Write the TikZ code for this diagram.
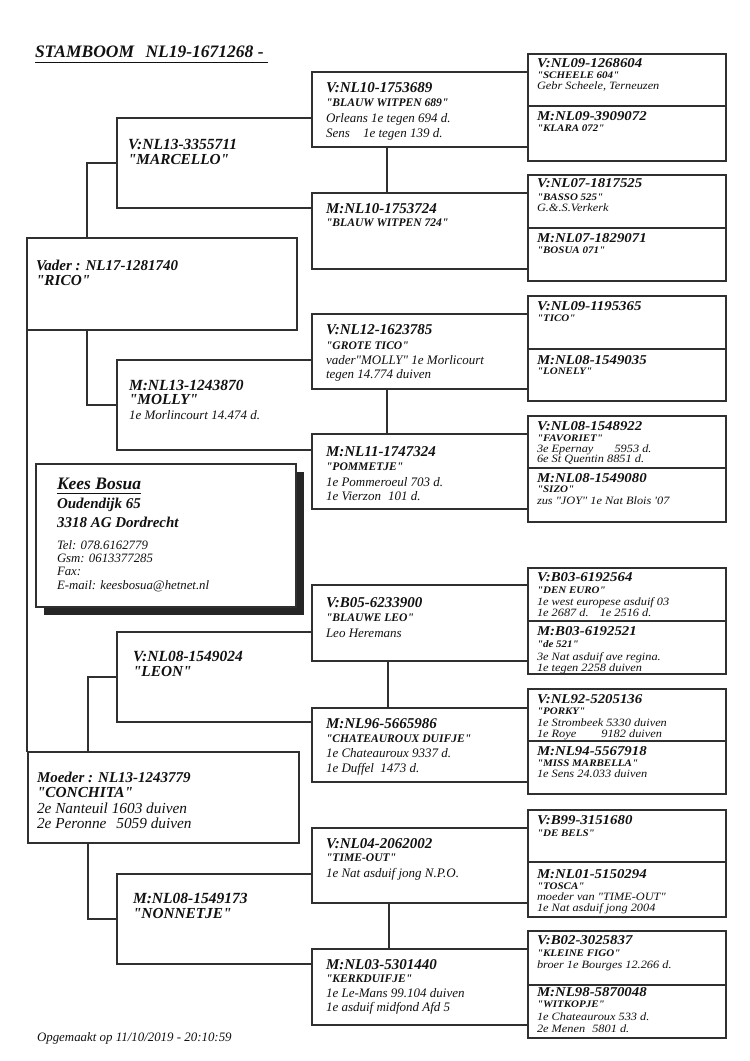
\documentclass[tikz,border=0pt]{standalone}
\usepackage{fontspec}
\setmainfont{Liberation Serif}
\newfontfamily\basefam{Liberation Serif}
\newfontfamily\stretchfam[FakeStretch=1.1]{Liberation Serif}
\newcommand\fTitle{\basefam\fontsize{17.5}{19}\selectfont\bfseries\itshape}
\newcommand\fRing{\basefam\fontsize{15}{16}\selectfont\bfseries\itshape}
\newcommand\fRingB{\basefam\fontsize{15.5}{16}\selectfont\bfseries\itshape}
\newcommand\fNameL{\basefam\fontsize{15.3}{16}\selectfont\bfseries\itshape}
\newcommand\fNameS{\basefam\fontsize{11.6}{13}\selectfont\bfseries\itshape}
\newcommand\fDet{\basefam\fontsize{13}{14}\selectfont\itshape}
\newcommand\fDetL{\basefam\fontsize{13}{14}\selectfont\itshape}
\newcommand\fDetM{\basefam\fontsize{15.3}{17}\selectfont\itshape}
\newcommand\gRing{\stretchfam\fontsize{13.5}{14}\selectfont\bfseries\itshape}
\newcommand\gName{\stretchfam\fontsize{10}{11}\selectfont\bfseries\itshape}
\newcommand\gDet{\stretchfam\fontsize{11.2}{12}\selectfont\itshape}
\newcommand\fKees{\basefam\fontsize{17.5}{19}\selectfont\bfseries\itshape}
\newcommand\fAddr{\basefam\fontsize{15}{16}\selectfont\bfseries\itshape}
\newcommand\fTel{\basefam\fontsize{12.8}{14}\selectfont\itshape}
\newcommand\fFoot{\basefam\fontsize{12.9}{14}\selectfont\itshape}
\definecolor{linec}{HTML}{303030}
\definecolor{txtc}{HTML}{111111}
\newcommand\T[5]{\node[txt,font=#4] (#1) at (#2,#3) {#5};}
\newcommand\bx[5]{\node[box,minimum width={(#4-#2)*1pt},minimum height={(#5-#3)*1pt}] (#1) at (#2,#3) {};}
\begin{document}
\begin{tikzpicture}[x=1pt,y=-1pt,
  txt/.style={anchor=base west,inner sep=0pt,outer sep=0pt,text=txtc},
  box/.style={draw=linec,line width=1.1pt,inner sep=0pt,outer sep=0pt,anchor=north west},
  ln/.style={draw=linec,line width=1.1pt}]
\useasboundingbox[fill=white] (0,0) rectangle (750,1061);

% title
\T{title}{35}{57}{\fTitle}{STAMBOOM\hspace{7pt} NL19-1671268 -}
\draw[line width=1pt,txtc] ([yshift=-5pt]title.base west) -- ([yshift=-5pt,xshift=4pt]title.base east);

% generation 1
\bx{vader}{27}{238}{297}{330}
\bx{moeder}{28}{752}{299}{843}
\draw[ln] (vader.south west) -- (vader.south west |- moeder.north);

% generation 2 brackets
\coordinate (brA) at (117,163);
\coordinate (brB) at (117,405);
\coordinate (brC) at (117,677);
\coordinate (brD) at (117,919);

% generation 3 boxes
\bx{g3a1}{312}{72}{528}{147}
\bx{g3a2}{312}{193}{528}{269}
\bx{g3b1}{312}{314}{528}{389}
\bx{g3b2}{312}{434}{528}{509}
\bx{g3c1}{312}{585}{528}{661}
\bx{g3c2}{312}{708}{528}{782}
\bx{g3d1}{312}{828}{528}{903}
\bx{g3d2}{312}{949}{528}{1025}

% generation 4 boxes
\bx{g4a1}{528}{54}{726}{161}
\bx{g4a2}{528}{175}{726}{281}
\bx{g4b1}{528}{296}{726}{401}
\bx{g4b2}{528}{416}{726}{522}
\bx{g4c1}{528}{568}{726}{674}
\bx{g4c2}{528}{689}{726}{794}
\bx{g4d1}{528}{810}{726}{917}
\bx{g4d2}{528}{931}{726}{1038}
\draw[ln] (g4a1.west |- 0,106) -- (g4a1.east |- 0,106);
\draw[ln] (g4a2.west |- 0,228) -- (g4a2.east |- 0,228);
\draw[ln] (g4b1.west |- 0,349) -- (g4b1.east |- 0,349);
\draw[ln] (g4b2.west |- 0,468) -- (g4b2.east |- 0,468);
\draw[ln] (g4c1.west |- 0,621) -- (g4c1.east |- 0,621);
\draw[ln] (g4c2.west |- 0,741) -- (g4c2.east |- 0,741);
\draw[ln] (g4d1.west |- 0,862) -- (g4d1.east |- 0,862);
\draw[ln] (g4d2.west |- 0,985) -- (g4d2.east |- 0,985);

% brackets of generation 2
\draw[ln] (g3a1.west |- 0,118) -| (brA) |- (g3a2.west |- 0,208);
\draw[ln] (g3b1.west |- 0,360) -| (brB) |- (g3b2.west |- 0,450);
\draw[ln] (g3c1.west |- 0,632) -| (brC) |- (g3c2.west |- 0,722);
\draw[ln] (g3d1.west |- 0,874) -| (brD) |- (g3d2.west |- 0,964);

% connectors generation 1 -> 2
\draw[ln] ([xshift=60pt]vader.north west) |- (brA);
\draw[ln] ([xshift=60pt]vader.south west) |- (brB);
\draw[ln] ([xshift=60pt]moeder.north west) |- (brC);
\draw[ln] ([xshift=60pt]moeder.south west) |- (brD);

% connectors generation 3 pairs
\draw[ln] ([xshift=75pt]g3a1.south west) -- ([xshift=75pt]g3a2.north west);
\draw[ln] ([xshift=75pt]g3b1.south west) -- ([xshift=75pt]g3b2.north west);
\draw[ln] ([xshift=76pt]g3c1.south west) -- ([xshift=76pt]g3c2.north west);
\draw[ln] ([xshift=77pt]g3d1.south west) -- ([xshift=77pt]g3d2.north west);

% Kees Bosua card
\fill[black!85] (44,472) rectangle (304,615);
\node[box,fill=white,minimum width=260pt,minimum height=143pt] (kees) at (36,464) {};
\T{k1}{57}{489}{\fKees}{Kees Bosua}
\draw[line width=0.9pt,txtc] ([yshift=-4pt]k1.base west) -- ([yshift=-4pt]k1.base east);
\T{k2}{57}{508.5}{\fAddr}{Oudendijk 65}
\T{k3}{57}{527.5}{\fAddr}{3318 AG Dordrecht}
\T{k4}{57}{549}{\fTel}{Tel: 078.6162779}
\T{k5}{57}{562}{\fTel}{Gsm: 0613377285}
\T{k6}{57}{575.5}{\fTel}{Fax:}
\T{k7}{57}{589}{\fTel}{E-mail: keesbosua@hetnet.nl}

% generation 1 text
\T{v1}{36}{270.5}{\fRing}{Vader : NL17-1281740}
\T{v2}{36}{285}{\fNameL}{"RICO"}
\T{m1}{37}{782}{\fRing}{Moeder : NL13-1243779}
\T{m2}{37}{797}{\fNameL}{"CONCHITA"}
\T{m3}{37}{813}{\fDetM}{2e Nanteuil 1603 duiven}
\T{m4}{37}{828}{\fDetM}{2e Peronne\hspace{6pt} 5059 duiven}

% generation 2 text
\T{a1}{128}{149}{\fRingB}{V:NL13-3355711}
\T{a2}{128}{164}{\fNameL}{"MARCELLO"}
\T{b1}{129}{390}{\fRingB}{M:NL13-1243870}
\T{b2}{129}{404}{\fNameL}{"MOLLY"}
\T{b3}{129}{419}{\fDetL}{1e Morlincourt 14.474 d.}
\T{c1}{133}{661}{\fRingB}{V:NL08-1549024}
\T{c2}{133}{676}{\fNameL}{"LEON"}
\T{d1}{133}{903}{\fRingB}{M:NL08-1549173}
\T{d2}{133}{918}{\fNameL}{"NONNETJE"}

% generation 3 text
\T{ta1}{326}{92}{\fRing}{V:NL10-1753689}
\T{ta2}{326}{106}{\fNameS}{"BLAUW WITPEN 689"}
\T{ta3}{326}{122}{\fDet}{Orleans 1e tegen 694 d.}
\T{ta4}{326}{137}{\fDet}{Sens\hspace{10pt} 1e tegen 139 d.}
\T{tb1}{326}{213}{\fRing}{M:NL10-1753724}
\T{tb2}{326}{226}{\fNameS}{"BLAUW WITPEN 724"}
\T{tc1}{326}{334}{\fRing}{V:NL12-1623785}
\T{tc2}{326}{349}{\fNameS}{"GROTE TICO"}
\T{tc3}{326}{364}{\fDet}{vader"MOLLY" 1e Morlicourt}
\T{tc4}{326}{378}{\fDet}{tegen 14.774 duiven}
\T{td1}{326}{456}{\fRing}{M:NL11-1747324}
\T{td2}{326}{470}{\fNameS}{"POMMETJE"}
\T{td3}{326}{486}{\fDet}{1e Pommeroeul 703 d.}
\T{td4}{326}{500}{\fDet}{1e Vierzon\hspace{4pt} 101 d.}
\T{te1}{326}{607}{\fRing}{V:B05-6233900}
\T{te2}{326}{621}{\fNameS}{"BLAUWE LEO"}
\T{te3}{326}{637}{\fDet}{Leo Heremans}
\T{tf1}{326}{728}{\fRing}{M:NL96-5665986}
\T{tf2}{326}{742}{\fNameS}{"CHATEAUROUX DUIFJE"}
\T{tf3}{326}{757}{\fDet}{1e Chateauroux 9337 d.}
\T{tf4}{326}{772}{\fDet}{1e Duffel\hspace{3pt} 1473 d.}
\T{tg1}{326}{848}{\fRing}{V:NL04-2062002}
\T{tg2}{326}{861}{\fNameS}{"TIME-OUT"}
\T{tg3}{326}{877}{\fDet}{1e Nat asduif jong N.P.O.}
\T{th1}{326}{969}{\fRing}{M:NL03-5301440}
\T{th2}{326}{982}{\fNameS}{"KERKDUIFJE"}
\T{th3}{326}{997}{\fDet}{1e Le-Mans 99.104 duiven}
\T{th4}{326}{1011}{\fDet}{1e asduif midfond Afd 5}

% generation 4 text
\T{q11}{537}{67}{\gRing}{V:NL09-1268604}
\T{q12}{537}{78}{\gName}{"SCHEELE 604"}
\T{q13}{537}{89.5}{\gDet}{Gebr Scheele, Terneuzen}
\T{q14}{537}{120}{\gRing}{M:NL09-3909072}
\T{q15}{537}{131}{\gName}{"KLARA 072"}

\T{q21}{537}{187}{\gRing}{V:NL07-1817525}
\T{q22}{537}{200}{\gName}{"BASSO 525"}
\T{q23}{537}{211}{\gDet}{G.\&.S.Verkerk}
\T{q24}{537}{242}{\gRing}{M:NL07-1829071}
\T{q25}{537}{253}{\gName}{"BOSUA 071"}

\T{q31}{537}{310}{\gRing}{V:NL09-1195365}
\T{q32}{537}{321}{\gName}{"TICO"}
\T{q34}{537}{364}{\gRing}{M:NL08-1549035}
\T{q35}{537}{374.5}{\gName}{"LONELY"}

\T{q41}{537}{430}{\gRing}{V:NL08-1548922}
\T{q42}{537}{441}{\gName}{"FAVORIET"}
\T{q43}{537}{452.5}{\gDet}{3e Epernay\hspace{18pt} 5953 d.}
\T{q44}{537}{462}{\gDet}{6e St Quentin 8851 d.}
\T{q45}{537}{482.5}{\gRing}{M:NL08-1549080}
\T{q46}{537}{492.5}{\gName}{"SIZO"}
\T{q47}{537}{504}{\gDet}{zus "JOY" 1e Nat Blois '07}

\T{q51}{537}{581}{\gRing}{V:B03-6192564}
\T{q52}{537}{593}{\gName}{"DEN EURO"}
\T{q53}{537}{605}{\gDet}{1e west europese asduif 03}
\T{q54}{537}{616.5}{\gDet}{1e 2687 d.\hspace{7pt} 1e 2516 d.}
\T{q55}{537}{635}{\gRing}{M:B03-6192521}
\T{q56}{537}{647}{\gName}{"de 521"}
\T{q57}{537}{660.5}{\gDet}{3e Nat asduif ave regina.}
\T{q58}{537}{671}{\gDet}{1e tegen 2258 duiven}

\T{q61}{537}{703}{\gRing}{V:NL92-5205136}
\T{q62}{537}{714}{\gName}{"PORKY"}
\T{q63}{537}{726.5}{\gDet}{1e Strombeek 5330 duiven}
\T{q64}{537}{737}{\gDet}{1e Roye\hspace{22pt} 9182 duiven}
\T{q65}{537}{755}{\gRing}{M:NL94-5567918}
\T{q66}{537}{766}{\gName}{"MISS MARBELLA"}
\T{q67}{537}{777}{\gDet}{1e Sens 24.033 duiven}

\T{q71}{537}{824}{\gRing}{V:B99-3151680}
\T{q72}{537}{836}{\gName}{"DE BELS"}
\T{q74}{537}{878}{\gRing}{M:NL01-5150294}
\T{q75}{537}{889}{\gName}{"TOSCA"}
\T{q76}{537}{900.5}{\gDet}{moeder van "TIME-OUT"}
\T{q77}{537}{911}{\gDet}{1e Nat asduif jong 2004}

\T{q81}{537}{944.5}{\gRing}{V:B02-3025837}
\T{q82}{537}{956}{\gName}{"KLEINE FIGO"}
\T{q83}{537}{968}{\gDet}{broer 1e Bourges 12.266 d.}
\T{q84}{537}{996}{\gRing}{M:NL98-5870048}
\T{q85}{537}{1007}{\gName}{"WITKOPJE"}
\T{q86}{537}{1020.5}{\gDet}{1e Chateauroux 533 d.}
\T{q87}{537}{1032}{\gDet}{2e Menen\hspace{4pt} 5801 d.}

% footer
\T{foot}{37}{1041}{\fFoot}{Opgemaakt op 11/10/2019 - 20:10:59}
\end{tikzpicture}
\end{document}
